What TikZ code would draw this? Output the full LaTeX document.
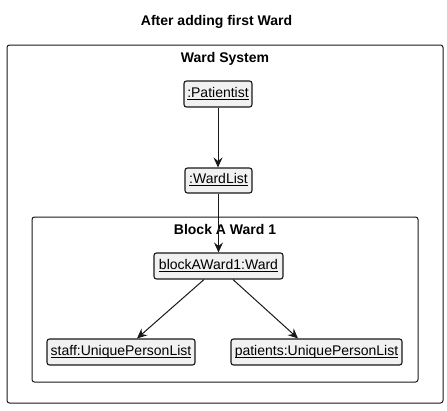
\documentclass[tikz,border=0pt]{standalone}
\usepackage{fontspec}
\setmainfont{Liberation Sans}
\usetikzlibrary{arrows.meta,calc}
\definecolor{edge}{HTML}{181818}
\definecolor{objfill}{HTML}{F1F1F1}
\newcommand\objul[1]{\setbox0\hbox{#1}\rlap{\copy0}\rule[-2.6pt]{\wd0}{0.9pt}}
\tikzset{
  objbox/.style={draw=edge, fill=objfill, line width=1.1pt, rounded corners=2.5pt,
    inner sep=0pt, minimum height=26pt, text height=10pt, text depth=4pt,
    font=\fontsize{14pt}{16pt}\selectfont},
  pkgbox/.style={draw=edge, line width=1pt, rounded corners=2.5pt},
  pkgtitle/.style={anchor=base, inner sep=0pt, font=\fontsize{14pt}{16pt}\selectfont\bfseries},
  link/.style={draw=edge, line width=1pt, -{Stealth[length=10pt,width=9pt,inset=3.5pt]}}
}
\begin{document}
\begin{tikzpicture}[x=1pt,y=-1pt]
\useasboundingbox (0,0) rectangle (447,410);
\node[pkgtitle] (title) at (216.5,25.5) {After adding first Ward};
\draw[pkgbox] (7,45) rectangle (443,403);
\node[pkgtitle] (wsys) at (225,62.5) {Ward System};
\draw[pkgbox] (32,217) rectangle (418,382);
\node[pkgtitle] (blk) at (225,234) {Block A Ward 1};
\node[objbox, minimum width=68pt] (pl) at (218,94) {\objul{:Patientist}};
\node[objbox, minimum width=67pt, minimum height=25pt] (wl) at (218.5,180.5) {\objul{:WardList}};
\node[objbox, minimum width=129pt] (ward) at (218.5,266) {\objul{blockAWard1:Ward}};
\node[objbox, minimum width=148pt] (staff) at (121,352) {\objul{staff:UniquePersonList}};
\node[objbox, minimum width=171pt] (pat) at (316.5,352) {\objul{patients:UniquePersonList}};
\draw[link] (pl.south) -- (pl.south |- wl.north);
\draw[link] (wl.south) -- (wl.south |- ward.north);
\draw[link] ($(ward.south)+(-14.5,0)$) -- ($(staff.north)+(16,0)$);
\draw[link] ($(ward.south)+(14.5,0)$) -- ($(pat.north)+(-18.5,0)$);
\end{tikzpicture}
\end{document}
